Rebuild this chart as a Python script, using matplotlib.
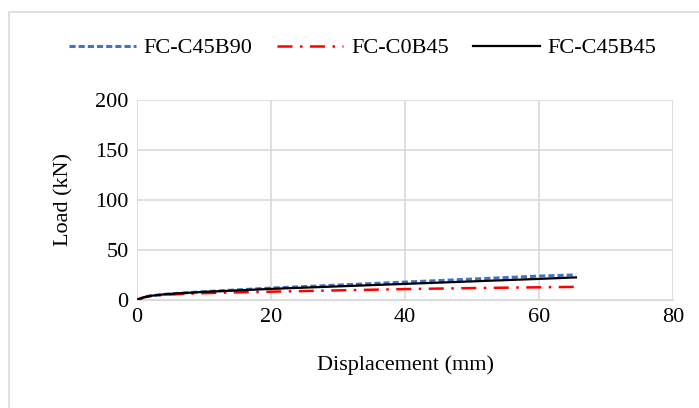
import matplotlib.pyplot as plt
from matplotlib.patches import Rectangle

plt.rcParams['font.family'] = ['Liberation Serif', 'DejaVu Serif']

# displacement (mm) and load (kN)
disp = [0, 1, 2, 4, 6, 10, 15, 20, 30, 40, 50, 60, 65.5]
load_c45b90 = [0, 2.5, 4, 5.5, 6.5, 8.2, 10, 11.8, 14.8, 17.8, 20.8, 23.8, 25]
load_c0b45 = [0, 2.5, 4, 5, 5.7, 6.7, 7.5, 8.2, 9.5, 10.8, 11.8, 12.6, 13]
load_c45b45 = [0, 2.5, 4, 5.5, 6.5, 8, 9.5, 11, 13.5, 16, 18.5, 21, 22.5]

fig = plt.figure(figsize=(6.99, 4.08), dpi=100)
# light frame of the chart area
fig.patches.append(Rectangle((9 / 699, -0.02), 1.0, 1 - 12 / 408 + 0.02, transform=fig.transFigure,
                             fill=False, edgecolor='#d9d9d9', linewidth=1.2))

ax = fig.add_axes([0.196, 0.265, 0.767, 0.49])
ax.plot(disp, load_c45b90, color='#4472c4', linestyle=(0, (2, 1)), linewidth=2.2, label='FC-C45B90')
ax.plot(disp, load_c0b45, color='#ff0000', linestyle=(0, (6, 3, 1, 3)), linewidth=1.8, label='FC-C0B45')
ax.plot(disp, load_c45b45, color='black', linewidth=1.6, label='FC-C45B45')

ax.set_xlim(0, 80)
ax.set_ylim(0, 200)
ax.set_xticks([0, 20, 40, 60, 80])
ax.set_yticks([0, 50, 100, 150, 200])
ax.grid(True, color='#d9d9d9', linewidth=1.2)
ax.set_axisbelow(True)
for s in ['top', 'right', 'left']:
    ax.spines[s].set_visible(False)
ax.spines['bottom'].set_color('#d9d9d9')
ax.tick_params(length=0, labelsize=16, pad=6)
ax.set_xlabel('Displacement (mm)', fontsize=16, labelpad=20)
ax.set_ylabel('Load (kN)', fontsize=16, labelpad=16)

fig.legend(loc='center', bbox_to_anchor=(0.519, 0.882), ncol=3, frameon=False,
           fontsize=16, handlelength=3.0, handletextpad=0.35, columnspacing=1.1)

fig.savefig('out.png', dpi=100)
